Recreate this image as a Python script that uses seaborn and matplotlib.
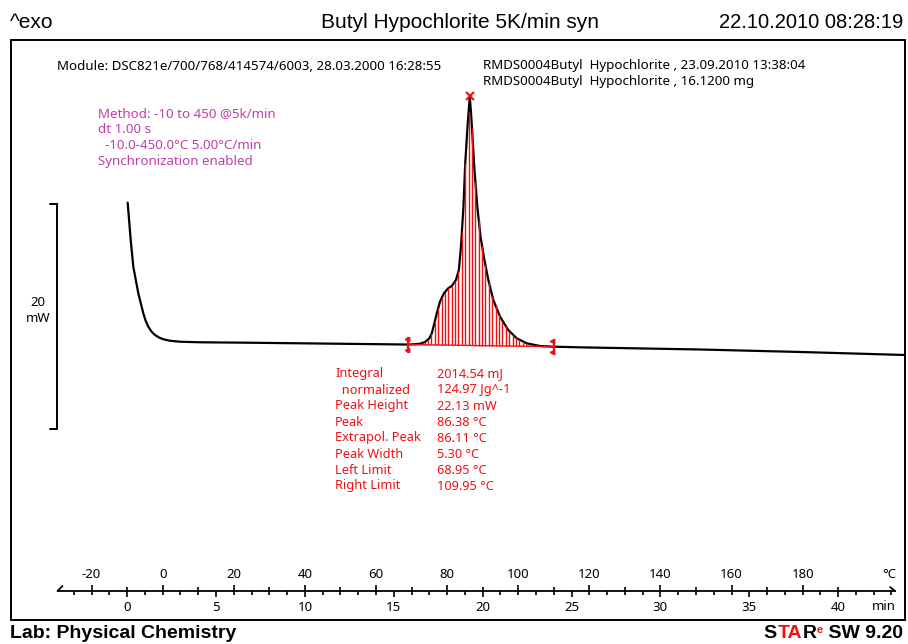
import numpy as np
import pandas as pd
import seaborn as sns
import matplotlib.pyplot as plt

# DSC curve (temperature in degC, heat flow in mW, exo up)
temp_c = [-9.85, -9.0, -8.27, -6.86, -5.46, -4.8, -4.05, -3.2, -2.17, -1.0,
          0.17, 2.0, 4.87, 10.5, 24.6, 38.6, 61.1, 68.95, 70.5, 72.4,
          73.8, 75.0, 75.7, 76.3, 77.1, 78.0, 79.1, 80.3, 81.3, 82.5,
          83.3, 83.9, 84.6, 85.1, 85.8, 86.38, 86.8, 87.2, 87.7, 88.5,
          89.4, 90.5, 91.6, 93.0, 94.9, 97.2, 99.6, 102.4, 106.1, 109.95,
          117.4, 151.1, 179.2, 208.8]
heat_flow_mw = [12.74, 9.42, 7.05, 4.68, 2.91, 2.25, 1.72, 1.30, 0.98, 0.75,
                0.60, 0.47, 0.38, 0.33, 0.29, 0.24, 0.16, 0.13, 0.15, 0.20,
                0.36, 0.68, 1.13, 1.87, 2.91, 3.94, 4.68, 5.13, 5.33, 5.87,
                6.76, 8.83, 12.38, 16.24, 19.8, 22.2, 20.4, 18.3, 15.64, 12.38,
                9.72, 7.64, 5.87, 4.09, 2.60, 1.42, 0.68, 0.24, 0.00, -0.06,
                -0.12, -0.31, -0.53, -0.80]

peak_temp = 86.38
left_limit = 68.95
right_limit = 109.95
start_temp = -10.0
heating_rate = 5.0      # K/min
scale_bar_mw = 20

temp_ticks = list(range(-20, 181, 20))
temp_minor = list(range(-20, 191, 10))
time_ticks = list(range(0, 41, 5))
time_minor = list(range(-3, 44, 1))

method_lines = ["Method: -10 to 450 @5k/min", "dt 1.00 s",
                "  -10.0-450.0°C 5.00°C/min", "Synchronization enabled"]
result_labels = ["Integral", "  normalized", "Peak Height", "Peak",
                 "Extrapol. Peak", "Peak Width", "Left Limit", "Right Limit"]
result_values = ["2014.54 mJ", "124.97 Jg^-1", "22.13 mW", "86.38 °C",
                 "86.11 °C", "5.30 °C", "68.95 °C", "109.95 °C"]

RED = "#ee1111"
MAGENTA = "#c03fa8"
HEAD = ["Liberation Sans", "DejaVu Sans"]
SMALL = ["Noto Sans", "DejaVu Sans"]

sns.set_theme(style="white")
plt.rcParams["font.family"] = SMALL
plt.rcParams["text.color"] = "black"

W, H = 908, 644
# pixel calibration of the plot area
X0, PX_DEG = 162.7, 3.555
Y0, PX_MW = 346.0, 11.25


def fx(px):
    return px / W


def fy(py):
    return 1 - py / H


def t_of(px):
    return (px - X0) / PX_DEG


def mw_of(py):
    return (Y0 - py) / PX_MW


fig = plt.figure(figsize=(W / 100, H / 100), dpi=100)

# ---- main frame with the curve
ax = fig.add_axes([fx(11), fy(620), (905 - 11) / W, (620 - 40) / H])
df = pd.DataFrame({"T": temp_c, "HF": heat_flow_mw})
sns.lineplot(data=df, x="T", y="HF", ax=ax, color="black", lw=1.6)
ax.set_xlim(t_of(11), t_of(905))
ax.set_ylim(mw_of(620), mw_of(40))
ax.set_xticks([])
ax.set_yticks([])
ax.set_xlabel("")
ax.set_ylabel("")
for s in ax.spines.values():
    s.set_color("black")
    s.set_linewidth(1.4)

# integration area: hatch between linear baseline and curve
hf_left = np.interp(left_limit, temp_c, heat_flow_mw)
hf_right = np.interp(right_limit, temp_c, heat_flow_mw)
hatch_t = np.arange(left_limit + 0.95, right_limit, 0.95)
base = np.interp(hatch_t, [left_limit, right_limit], [hf_left, hf_right])
top = np.interp(hatch_t, temp_c, heat_flow_mw)
ax.vlines(hatch_t, base, np.maximum(top, base), color=RED, lw=1.0)
ax.plot([left_limit, right_limit], [hf_left, hf_right], color=RED, lw=1.0)

# peak and limit markers
ax.plot(peak_temp, np.interp(peak_temp, temp_c, heat_flow_mw), marker="x",
        color=RED, ms=6, mew=1.5)
for lim, hf in [(left_limit, hf_left), (right_limit, hf_right)]:
    ax.plot(lim, hf, marker="|", color=RED, ms=11, mew=1.6)
    ax.plot([lim - 0.35, lim - 0.35], [hf + 0.5, hf - 0.5], ls="none",
            marker="<", color=RED, ms=3.2)

# 20 mW scale bar
sb_x = t_of(57)
sb_lo = mw_of(429)
ax.plot([sb_x, sb_x], [sb_lo, sb_lo + scale_bar_mw], color="black", lw=1.4)
for yy in [sb_lo, sb_lo + scale_bar_mw]:
    ax.plot([t_of(50), sb_x], [yy, yy], color="black", lw=1.4)
ax.text(t_of(38), mw_of(310), f"{scale_bar_mw}\nmW", ha="center", va="center",
        fontsize=9.5, linespacing=1.3, color="black")

# ---- temperature / time ruler
rax = fig.add_axes([fx(58), fy(591), (895 - 58) / W, 0.0001])
rax.set_xlim(t_of(58), t_of(895))
rax.set_yticks([])
rax.patch.set_visible(False)
for side in ["left", "right", "bottom"]:
    rax.spines[side].set_visible(False)
rax.spines["top"].set_linewidth(1.3)
rax.spines["top"].set_color("black")
rax.xaxis.set_ticks_position("top")
rax.set_xticks(temp_ticks)
rax.set_xticks(temp_minor, minor=True)
rax.set_xticklabels([str(t) for t in temp_ticks])
rax.tick_params(axis="x", which="major", direction="out", length=4.5, width=1.2,
                pad=3, labelsize=9.5, colors="black")
rax.tick_params(axis="x", which="minor", direction="out", length=3, width=1.2,
                colors="black")

sec = rax.secondary_xaxis("bottom",
                          functions=(lambda t: (t - start_temp) / heating_rate,
                                     lambda m: m * heating_rate + start_temp))
sec.set_xticks(time_ticks)
sec.set_xticks(time_minor, minor=True)
sec.set_xticklabels([str(m) for m in time_ticks])
sec.spines["bottom"].set_visible(False)
sec.tick_params(axis="x", which="major", direction="out", length=4.5, width=1.2,
                pad=3, labelsize=9.5, colors="black")
sec.tick_params(axis="x", which="minor", direction="out", length=3, width=1.2,
                colors="black")

# ruler end strokes
fig.add_artist(plt.Line2D([fx(57.5), fx(62.5)], [fy(591), fy(586)],
                          color="black", lw=1.3))
fig.add_artist(plt.Line2D([fx(890), fx(895)], [fy(587), fy(591)],
                          color="black", lw=1.3))
fig.text(fx(889), fy(575), "°C", ha="center", va="center", fontsize=9.5)
fig.text(fx(884), fy(607), "min", ha="center", va="center", fontsize=9.5)

# ---- header and footer
fig.text(fx(10), fy(22), "^exo", ha="left", va="center", fontsize=15, family=HEAD)
fig.text(fx(460), fy(22), "Butyl Hypochlorite 5K/min syn", ha="center",
         va="center", fontsize=15, family=HEAD)
fig.text(fx(903), fy(22), "22.10.2010 08:28:19", ha="right", va="center",
         fontsize=14.5, family=HEAD)
fig.text(fx(10), fy(633), "Lab: Physical Chemistry", ha="left", va="center",
         fontsize=14, family=HEAD, weight="bold")

sw = fig.text(fx(903), fy(633), " SW 9.20", ha="right", va="center",
              fontsize=14, family=HEAD, weight="bold")
sup = ax.annotate("e", xy=(0, 0.95), xycoords=sw, ha="right", va="top",
                  fontsize=8, color=RED, family=HEAD, weight="bold",
                  annotation_clip=False)
prev = sup
for piece, col in [("R", "black"), ("TA", RED), ("S", "black")]:
    prev = ax.annotate(piece, xy=(-0.04, 0.5), xycoords=(prev, sw), ha="right",
                       va="center", fontsize=14, color=col, family=HEAD,
                       weight="bold", annotation_clip=False)

# ---- info texts
fig.text(fx(57), fy(66), "Module: DSC821e/700/768/414574/6003, 28.03.2000 16:28:55",
         ha="left", va="center", fontsize=9.6)
fig.text(fx(483), fy(66), "RMDS0004Butyl  Hypochlorite , 23.09.2010 13:38:04",
         ha="left", va="center", fontsize=9.6)
fig.text(fx(483), fy(82), "RMDS0004Butyl  Hypochlorite , 16.1200 mg",
         ha="left", va="center", fontsize=9.6)
for i, line in enumerate(method_lines):
    fig.text(fx(98), fy(114 + 15.7 * i), line, ha="left", va="center",
             fontsize=9.6, color=MAGENTA)
for i, (lab, val) in enumerate(zip(result_labels, result_values)):
    fig.text(fx(335), fy(374 + 16 * i), lab, ha="left", va="center",
             fontsize=9.2, color=RED)
    fig.text(fx(437), fy(374 + 16 * i), val, ha="left", va="center",
             fontsize=9.2, color=RED)

fig.savefig("out.png", dpi=100)
